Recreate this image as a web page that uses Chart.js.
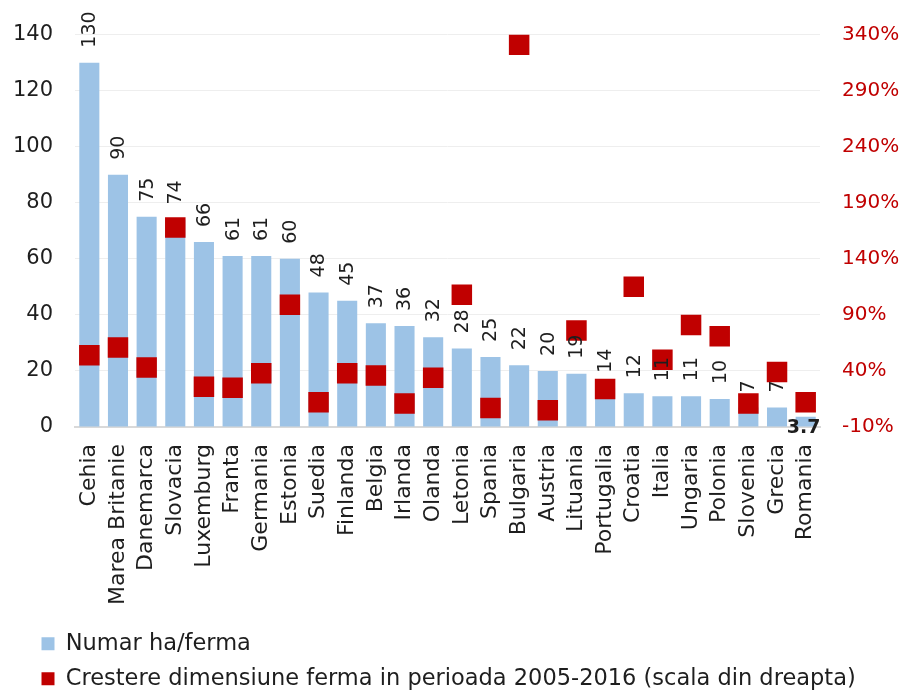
<!DOCTYPE html>
<html>
<head>
<meta charset="utf-8">
<script src="https://cdn.jsdelivr.net/npm/chart.js@4/dist/chart.umd.min.js"></script>
<style>
    html, body { margin: 0; padding: 0; background: #fff; }
    #wrap { width: 902px; height: 691px; position: relative; }
</style>
</head>
<body>
<div id="wrap"><canvas id="farmChart"></canvas></div>
<script>
// Data
const countries = ['Cehia', 'Marea Britanie', 'Danemarca', 'Slovacia', 'Luxemburg', 'Franta', 'Germania', 'Estonia', 'Suedia', 'Finlanda', 'Belgia', 'Irlanda', 'Olanda', 'Letonia', 'Spania', 'Bulgaria', 'Austria', 'Lituania', 'Portugalia', 'Croatia', 'Italia', 'Ungaria', 'Polonia', 'Slovenia', 'Grecia', 'Romania'];
const haPerFarm = [130, 90, 75, 74, 66, 61, 61, 60, 48, 45, 37, 36, 32, 28, 25, 22, 20, 19, 14, 12, 11, 11, 10, 7, 7, 3.7];
const growthPct = [54, 61, 43, 168, 26, 25, 38, 99, 12, 38, 36, 11, 34, 108, 7, 331, 5, 76, 24, 115, 50, 81, 71, 11, 39, 12];
const leftTicks = [0, 20, 40, 60, 80, 100, 120, 140];
const rightTicks = [-10, 40, 90, 140, 190, 240, 290, 340];

const FONT = "'DejaVu Sans', sans-serif";
const BLUE = '#9DC3E6';
const RED = '#C00000';
const TEXT = '#1e1e1e';

// Value labels over the bars
const barLabels = {
    id: 'barLabels',
    afterDatasetsDraw(chart) {
        const ctx = chart.ctx;
        const meta = chart.getDatasetMeta(0);
        const xScale = chart.scales.x;
        ctx.save();
        ctx.fillStyle = TEXT;
        meta.data.forEach((bar, i) => {
            const v = haPerFarm[i];
            if (i === haPerFarm.length - 1) {
                // last one sits on the axis, bold and flat
                ctx.font = `bold 19px ${FONT}`;
                ctx.textAlign = 'center';
                ctx.textBaseline = 'middle';
                ctx.fillText(String(v), bar.x - 2, xScale.top + 1);
                return;
            }
            ctx.font = `19px ${FONT}`;
            ctx.save();
            ctx.translate(bar.x, bar.y - 15);
            ctx.rotate(-Math.PI / 2);
            ctx.textAlign = 'left';
            ctx.textBaseline = 'middle';
            ctx.fillText(String(v), 0, 1);
            ctx.restore();
        });
        ctx.restore();
    }
};

// Nudge the legend block to where the original sits
const legendShift = {
    id: 'legendShift',
    afterLayout(chart) {
        if (!chart.legend) return;
        chart.legend.left += 29;
        chart.legend.right += 29;
        chart.legend.top += 9;
        chart.legend.bottom += 9;
    }
};

const ctx = document.getElementById('farmChart').getContext('2d');
const farmChart = new Chart(ctx, {
    type: 'bar',
    data: {
        labels: countries,
        datasets: [
            {
                type: 'bar',
                label: 'Numar ha/ferma',
                data: haPerFarm,
                backgroundColor: BLUE,
                borderWidth: 0,
                barPercentage: 0.7,
                categoryPercentage: 1,
                yAxisID: 'y',
                order: 2
            },
            {
                type: 'line',
                label: 'Crestere dimensiune ferma in perioada 2005-2016 (scala din dreapta)',
                data: growthPct,
                showLine: false,
                pointStyle: 'rect',
                pointRadius: 14.5,
                pointHoverRadius: 14.5,
                pointBorderWidth: 0,
                backgroundColor: RED,
                borderColor: RED,
                borderWidth: 0,
                yAxisID: 'y2',
                order: 1
            }
        ]
    },
    options: {
        responsive: true,
        maintainAspectRatio: false,
        animation: false,
        layout: { padding: { left: 0, top: 16, right: 0, bottom: 0 } },
        plugins: {
            legend: {
                position: 'bottom',
                align: 'start',
                labels: {
                    font: { family: FONT, size: 22.5 },
                    color: TEXT,
                    boxWidth: 13,
                    boxHeight: 13,
                    padding: 12.5,
                    sort: (a, b) => a.datasetIndex - b.datasetIndex
                }
            },
            tooltip: { enabled: false }
        },
        scales: {
            x: {
                grid: { display: false, drawTicks: false },
                border: { display: true, color: '#d9d9d9', width: 2 },
                ticks: {
                    font: { family: FONT, size: 22 },
                    color: TEXT,
                    minRotation: 90,
                    maxRotation: 90,
                    autoSkip: false,
                    padding: 17
                },
                afterFit: (scale) => { scale.height = 184; }
            },
            y: {
                position: 'left',
                min: 0,
                max: 140,
                afterBuildTicks: (scale) => { scale.ticks = leftTicks.map(v => ({ value: v })); },
                grid: { color: '#eeeeee', drawTicks: false },
                border: { display: false },
                ticks: {
                    font: { family: FONT, size: 21 },
                    color: TEXT,
                    padding: 22
                },
                afterFit: (scale) => { scale.width = 75; }
            },
            y2: {
                position: 'right',
                min: -10,
                max: 340,
                afterBuildTicks: (scale) => { scale.ticks = rightTicks.map(v => ({ value: v })); },
                grid: { display: false, drawTicks: false },
                border: { display: false },
                ticks: {
                    font: { family: FONT, size: 20 },
                    color: RED,
                    padding: 22,
                    callback: v => v + '%'
                },
                afterFit: (scale) => { scale.width = 82; }
            }
        }
    },
    plugins: [barLabels, legendShift]
});
</script>
</body>
</html>
